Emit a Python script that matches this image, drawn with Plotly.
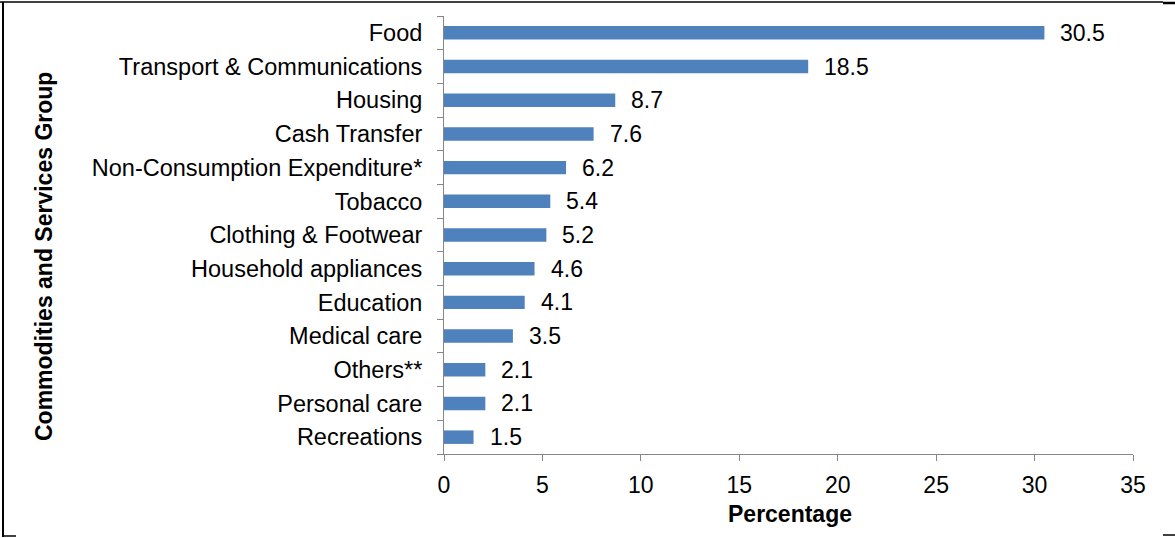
import plotly.graph_objects as go

categories = ["Food", "Transport & Communications", "Housing", "Cash Transfer",
              "Non-Consumption Expenditure*", "Tobacco", "Clothing & Footwear",
              "Household appliances", "Education", "Medical care", "Others**",
              "Personal care", "Recreations"]
values = [30.5, 18.5, 8.7, 7.6, 6.2, 5.4, 5.2, 4.6, 4.1, 3.5, 2.1, 2.1, 1.5]
x_ticks = [0, 5, 10, 15, 20, 25, 30, 35]

W, H = 1175, 538
L, R, T, B = 444, 42, 16, 84
FONT = "Liberation Sans, Arial, sans-serif"
FS = 23
GREY = "#868686"

def px(x):
    return (x - L) / (W - L - R)

def py(y):
    return (H - B - y) / (H - T - B)

cats = categories[::-1]
vals = values[::-1]

fig = go.Figure(go.Bar(
    x=vals, y=cats, orientation="h", width=0.40,
    marker=dict(color="#4F81BD", line=dict(width=0)),
    hoverinfo="skip",
))

annotations = []
for c, v in zip(cats, vals):
    annotations.append(dict(x=v, y=c, xref="x", yref="y", text=f"{v:.1f}",
                            showarrow=False, xanchor="left", yanchor="middle", xshift=14,
                            font=dict(family=FONT, size=FS, color="black")))
annotations.append(dict(x=px(790), y=py(514), xref="paper", yref="paper",
                        text="<b>Percentage</b>", showarrow=False,
                        xanchor="center", yanchor="middle",
                        font=dict(family=FONT, size=FS, color="black")))
annotations.append(dict(x=px(44), y=py(257), xref="paper", yref="paper",
                        text="<b>Commodities and Services Group</b>", textangle=-90,
                        showarrow=False, xanchor="center", yanchor="middle",
                        font=dict(family=FONT, size=FS, color="black")))

line = dict(color="black", width=1.5)
shapes = [
    dict(type="line", xref="paper", yref="paper", x0=px(0), x1=px(1163), y0=py(2), y1=py(2), line=line),
    dict(type="line", xref="paper", yref="paper", x0=px(1163), x1=px(1175), y0=py(3), y1=py(3), line=dict(color="black", width=2.5)),
    dict(type="line", xref="paper", yref="paper", x0=px(3), x1=px(3), y0=py(2), y1=py(537), line=dict(color="black", width=2)),
    dict(type="line", xref="paper", yref="paper", x0=px(3), x1=px(16), y0=py(536), y1=py(536), line=line),
    dict(type="line", xref="paper", yref="paper", x0=px(1163), x1=px(1175), y0=py(535), y1=py(535), line=line),
]

fig.update_layout(
    width=W, height=H,
    margin=dict(l=L, r=R, t=T, b=B, autoexpand=False),
    paper_bgcolor="white", plot_bgcolor="white",
    showlegend=False,
    font=dict(family=FONT, size=FS, color="black"),
    annotations=annotations, shapes=shapes,
    xaxis=dict(range=[0, 35], tickvals=x_ticks, ticktext=[str(t) for t in x_ticks],
               showgrid=False, zeroline=False, showline=True, linecolor=GREY, linewidth=1,
               ticks="outside", ticklen=6, tickcolor=GREY, tickwidth=1,
               tickfont=dict(family=FONT, size=FS, color="black"), ticklabelstandoff=4,
               fixedrange=True),
    yaxis=dict(type="category", categoryorder="array", categoryarray=cats,
               showgrid=False, zeroline=False, showline=True, linecolor=GREY, linewidth=1,
               ticks="outside", tickson="boundaries", ticklen=6, tickcolor=GREY, tickwidth=1,
               tickfont=dict(family=FONT, size=23.5, color="black"), ticklabelstandoff=16,
               fixedrange=True),
)

fig.write_html("out.html", config={"displayModeBar": False},
               post_script="document.body.style.margin='0px';")
